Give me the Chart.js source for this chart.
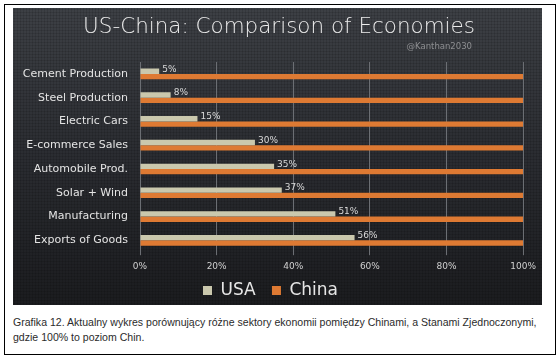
<!DOCTYPE html>
<html>
<head>
<meta charset="utf-8">
<script src="https://cdn.jsdelivr.net/npm/chart.js@4"></script>
<style>
  html, body { margin: 0; padding: 0; background: #ffffff; width: 558px; height: 360px; overflow: hidden; }
  #frame { position: absolute; left: 4px; top: 4px; width: 552px; height: 351px; border: 1px solid #000; box-sizing: border-box; }
  #panel {
    position: absolute; left: 13px; top: 8px; width: 529px; height: 297px;
    background-color: #2a2c30;
    background-image:
      radial-gradient(rgba(0,0,0,0.22) 0.8px, transparent 1.2px),
      linear-gradient(180deg, #3d4045 0%, #2c2e33 45%, #1b1c1f 100%);
    background-size: 3px 3px, 100% 100%;
  }
  #panel canvas { position: absolute; left: 0; top: 0; }
  #caption {
    position: absolute; left: 13px; top: 315px; width: 545px;
    font-family: "Liberation Sans", Arial, sans-serif; font-size: 10.55px; line-height: 15px;
    color: #2b2b2b; white-space: nowrap;
  }
</style>
</head>
<body>
<div id="frame"></div>
<div id="panel"><canvas id="c" width="529" height="297"></canvas></div>
<div id="caption">Grafika 12. Aktualny wykres porównujący różne sektory ekonomii pomiędzy Chinami, a Stanami Zjednoczonymi,<br>gdzie 100% to poziom Chin.</div>
<script>
const categories = ['Cement Production', 'Steel Production', 'Electric Cars', 'E-commerce Sales',
                    'Automobile Prod.', 'Solar + Wind', 'Manufacturing', 'Exports of Goods'];
const usaValues = [5, 8, 15, 30, 35, 37, 51, 56];
const chinaValues = [100, 100, 100, 100, 100, 100, 100, 100];
const xTickValues = [0, 20, 40, 60, 80, 100];
const seriesNames = ['USA', 'China'];
const chartTitle = 'US-China: Comparison of Economies';
const watermark = '@Kanthan2030';

const FONT = '"DejaVu Sans", sans-serif';

const headerPlugin = {
  id: 'header',
  afterDraw(chart) {
    const ctx = chart.ctx;
    ctx.save();
    let size = 22;
    ctx.font = '200 ' + size + 'px ' + FONT;
    const w = ctx.measureText(chartTitle).width;
    size = size * 392 / w;
    ctx.font = '200 ' + size.toFixed(2) + 'px ' + FONT;
    ctx.fillStyle = '#ececec';
    ctx.textAlign = 'center';
    ctx.textBaseline = 'middle';
    ctx.fillText(chartTitle, 266, 19);
    ctx.font = '8.5px ' + FONT;
    ctx.fillStyle = '#8e8f92';
    ctx.textAlign = 'right';
    ctx.fillText(watermark, 459, 39);
    ctx.restore();
  }
};

const valueLabelPlugin = {
  id: 'valueLabels',
  afterDatasetsDraw(chart) {
    const ctx = chart.ctx;
    const meta = chart.getDatasetMeta(0);
    ctx.save();
    ctx.font = '9px ' + FONT;
    ctx.fillStyle = '#d9d9d9';
    ctx.textAlign = 'left';
    ctx.textBaseline = 'middle';
    meta.data.forEach((bar, i) => {
      ctx.fillText(usaValues[i] + '%', bar.x + 3, bar.y - 2);
    });
    ctx.restore();
  }
};

new Chart(document.getElementById('c'), {
  type: 'bar',
  data: {
    labels: categories,
    datasets: [
      { label: seriesNames[0], data: usaValues, backgroundColor: '#cac8ad', borderWidth: 0,
        categoryPercentage: 0.45, barPercentage: 1.0 },
      { label: seriesNames[1], data: chinaValues, backgroundColor: '#de7a33', borderWidth: 0,
        categoryPercentage: 0.45, barPercentage: 1.0 }
    ]
  },
  options: {
    indexAxis: 'y',
    responsive: false,
    animation: false,
    layout: { padding: { top: 54, right: 14, bottom: -4, left: 0 } },
    scales: {
      x: {
        min: 0, max: 100,
        afterBuildTicks(scale) { scale.ticks = xTickValues.map(v => ({ value: v })); },
        afterFit(scale) { scale.height += 3; },
        grid: { color: '#6b6e73', lineWidth: 1, drawTicks: true, tickLength: 3 },
        border: { display: false },
        ticks: { color: '#d0d0d0', font: { family: FONT, size: 9 }, padding: 6,
                 callback: v => v + '%' }
      },
      y: {
        afterFit(scale) { scale.width = 127; },
        grid: { display: false },
        border: { display: false },
        ticks: { color: '#e4e4e4', font: { family: FONT, size: 11 }, padding: 4 }
      }
    },
    plugins: {
      title: { display: false },
      tooltip: { enabled: false },
      legend: {
        display: true, position: 'bottom',
        labels: { color: '#e6e6e6', font: { family: FONT, size: 17 }, boxWidth: 9, boxHeight: 9, padding: 1,
                  generateLabels(chart) {
                    const items = Chart.defaults.plugins.legend.labels.generateLabels(chart);
                    items.forEach((it, i) => { if (i === 0) it.text = it.text + '\u2002\u2009\u2009'; });
                    return items;
                  } }
      }
    }
  },
  plugins: [headerPlugin, valueLabelPlugin]
});
</script>
</body>
</html>
